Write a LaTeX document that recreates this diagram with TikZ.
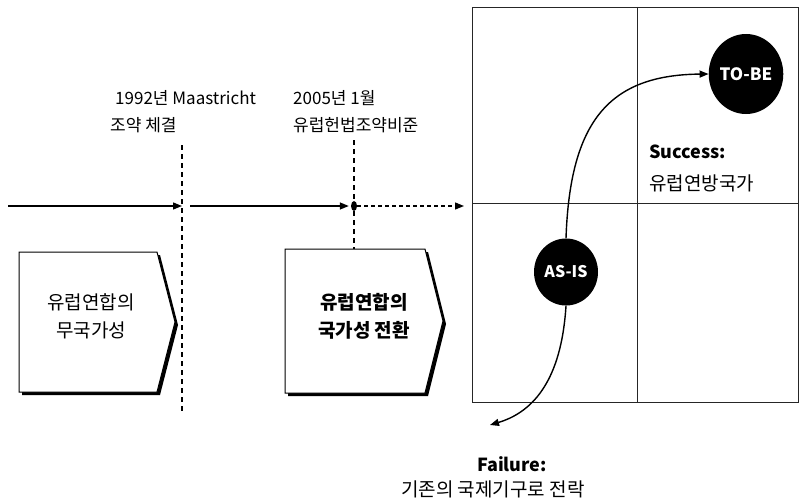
\documentclass[tikz,border=0pt]{standalone}
\usepackage{fontspec}
\setmainfont{Noto Sans CJK KR}
\usetikzlibrary{arrows.meta}
\tikzset{
  lbl/.style={inner sep=0pt, anchor=west, font=\fontsize{17}{20}\selectfont},
  boxtext/.style={inner sep=0pt, align=center, font=\fontsize{19}{28}\selectfont},
  tl/.style={line width=1.3pt, -{Triangle[length=9pt,width=7pt]}},
  vdash/.style={line width=1.3pt, dash pattern=on 5pt off 4pt},
  grid/.style={line width=0.9pt, draw=black!85},
  blob/.style={ellipse, fill=black, text=white, inner sep=0pt, font=\fontsize{16}{18}\selectfont\bfseries},
  curv/.style={line width=1.4pt, -{Triangle[length=9pt,width=7pt]}},
}
\usetikzlibrary{shapes.geometric}
\begin{document}
\begin{tikzpicture}[x=1pt,y=-1pt]
\useasboundingbox[fill=white] (0,0) rectangle (805,503);

% timeline
\coordinate (t0) at (8,206);
\coordinate (t1) at (182,206);
\coordinate (t2) at (190,206);
\node[ellipse, fill=black, minimum width=6pt, minimum height=10pt, inner sep=0pt] (dot) at (354,206) {};
\coordinate (t3) at (464,206);
\draw[tl] (t0) -- (t1);
\draw[tl] (t2) -- ([xshift=-2pt]dot.west);
\draw[line width=1.3pt, dash pattern=on 4pt off 3pt, -{Triangle[length=9pt,width=7pt]}] (dot.east) -- (t3);

% dashed verticals
\coordinate (v1a) at (182,145);
\coordinate (v1b) at (182,412);
\draw[vdash] (v1a) -- (v1b);
\coordinate (v2a) at (354,140);

% boxes with shadow
\fill[black] (22,255) -- (160,255) -- (178,325) -- (160,395) -- (22,395) -- cycle;
\draw[line width=1pt, fill=white] (19,252) -- (157,252) -- (175,322) -- (157,392) -- (19,392) -- cycle;
\node[boxtext] (b1) at (91,316) {유럽연합의\\무국가성};

\fill[black] (288,252) -- (428,252) -- (446,324) -- (428,396) -- (288,396) -- cycle;
\draw[line width=1pt, fill=white] (285,249) -- (425,249) -- (443,321) -- (425,393) -- (285,393) -- cycle;
\node[boxtext, font=\fontsize{19}{28}\selectfont\bfseries] (b2) at (364,316) {유럽연합의\\국가성 전환};
\coordinate (b2top) at (354,249);
\draw[vdash] (v2a) -- (dot.north);
\draw[vdash] (dot.south) -- (b2top);

% labels
\node[lbl] (l1a) at (115,98) {1992년 Maastricht};
\node[lbl] (l1b) at (110,125) {조약 체결};
\node[lbl] (l2a) at (293,98) {2005년 1월};
\node[lbl] (l2b) at (293,125) {유럽헌법조약비준};

% grid
\draw[grid] (472,7) rectangle (798,402);
\draw[grid] (637,7) -- (637,402);
\draw[grid] (472,203) -- (798,203);

\node[blob, minimum width=66pt, minimum height=80pt, font=\fontsize{17}{18}\selectfont\bfseries] (tobe) at (746,74) {TO-BE};
\node[blob, minimum width=64pt, minimum height=67pt] (asis) at (566,272) {AS-IS};

\draw[curv] (asis.north) .. controls (570,120) and (610,75) .. (tobe.west);
\coordinate (failend) at (490,425);
\draw[curv] (asis.south) .. controls (562,370) and (540,410) .. (failend);

\node[inner sep=0pt, anchor=west, font=\fontsize{18}{20}\selectfont\bfseries] (succ) at (649,152) {Success:};
\node[inner sep=0pt, anchor=west, font=\fontsize{19}{22}\selectfont] (succk) at (649,183) {유럽연방국가};
\node[inner sep=0pt, anchor=west, font=\fontsize{18}{20}\selectfont\bfseries] (fail) at (477,464) {Failure:};
\node[inner sep=0pt, anchor=west, font=\fontsize{19}{22}\selectfont] (failk) at (401,489) {기존의 국제기구로 전락};
\end{tikzpicture}
\end{document}
